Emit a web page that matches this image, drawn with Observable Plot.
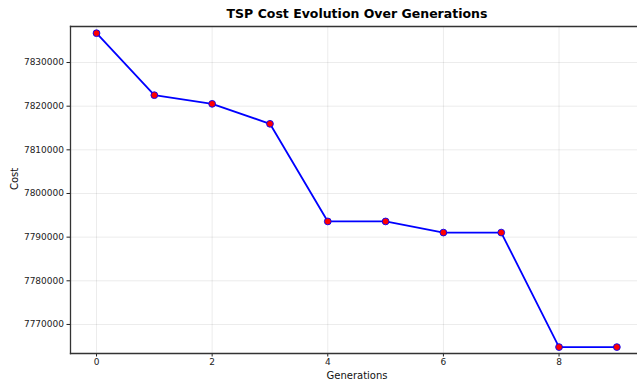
<!DOCTYPE html>
<html>
<head>
<meta charset="utf-8">
<script src="https://cdn.jsdelivr.net/npm/d3@7"></script>
<script src="https://cdn.jsdelivr.net/npm/@observablehq/plot@0.6"></script>
<style>
  html, body { margin: 0; padding: 0; background: #fff; overflow: hidden; }
  svg { display: block; }
</style>
</head>
<body>
<div id="chart"></div>
<script>
const generations = [0, 1, 2, 3, 4, 5, 6, 7, 8, 9];
const costs = [7836720, 7822520, 7820530, 7815960, 7793600, 7793600, 7791050, 7791050, 7764820, 7764820];
const xTicks = [0, 2, 4, 6, 8];
const yTicks = [7770000, 7780000, 7790000, 7800000, 7810000, 7820000, 7830000];
const title = "TSP Cost Evolution Over Generations";
const xLabel = "Generations";
const yLabel = "Cost";

const data = generations.map((g, i) => ({gen: g, cost: costs[i]}));

const chart = Plot.plot({
  width: 637,
  height: 382,
  marginLeft: 70,
  marginRight: 0,
  marginTop: 26,
  marginBottom: 29,
  style: {fontFamily: "DejaVu Sans", fontSize: "9px", color: "#222", background: "#fff"},
  x: {domain: [-0.45, 9.357]},
  y: {domain: [7763350, 7838250]},
  marks: [
    Plot.gridX(xTicks, {stroke: "#000", strokeOpacity: 0.1, strokeWidth: 0.8}),
    Plot.gridY(yTicks, {stroke: "#000", strokeOpacity: 0.1, strokeWidth: 0.8}),
    Plot.axisX(xTicks, {tickSize: 3.5, tickPadding: 2, label: null, fontSize: 9}),
    Plot.axisY(yTicks, {tickSize: 3.5, tickPadding: 3, tickFormat: d => String(d), label: null, fontSize: 9}),
    Plot.frame({anchor: "top", stroke: "#333", strokeWidth: 1.3}),
    Plot.frame({anchor: "left", stroke: "#333", strokeWidth: 1.3}),
    Plot.frame({anchor: "bottom", stroke: "#333", strokeWidth: 1.3}),
    Plot.line(data, {x: "gen", y: "cost", stroke: "#0000ff", strokeWidth: 1.8}),
    Plot.dot(data, {x: "gen", y: "cost", r: 3.4, fill: "#ff0000", stroke: "#0000ff", strokeWidth: 0.9}),
    Plot.text([title], {frameAnchor: "top", dy: -9, dx: 3, lineAnchor: "bottom", fontWeight: "bold", fontSize: 12.5, fill: "#000"}),
    Plot.text([xLabel], {frameAnchor: "bottom", dy: 25, dx: 3, fontSize: 10, fill: "#111"}),
    Plot.text([yLabel], {frameAnchor: "left", dx: -56, rotate: -90, fontSize: 10, fill: "#111"})
  ]
});
document.getElementById("chart").append(chart);
</script>
</body>
</html>
